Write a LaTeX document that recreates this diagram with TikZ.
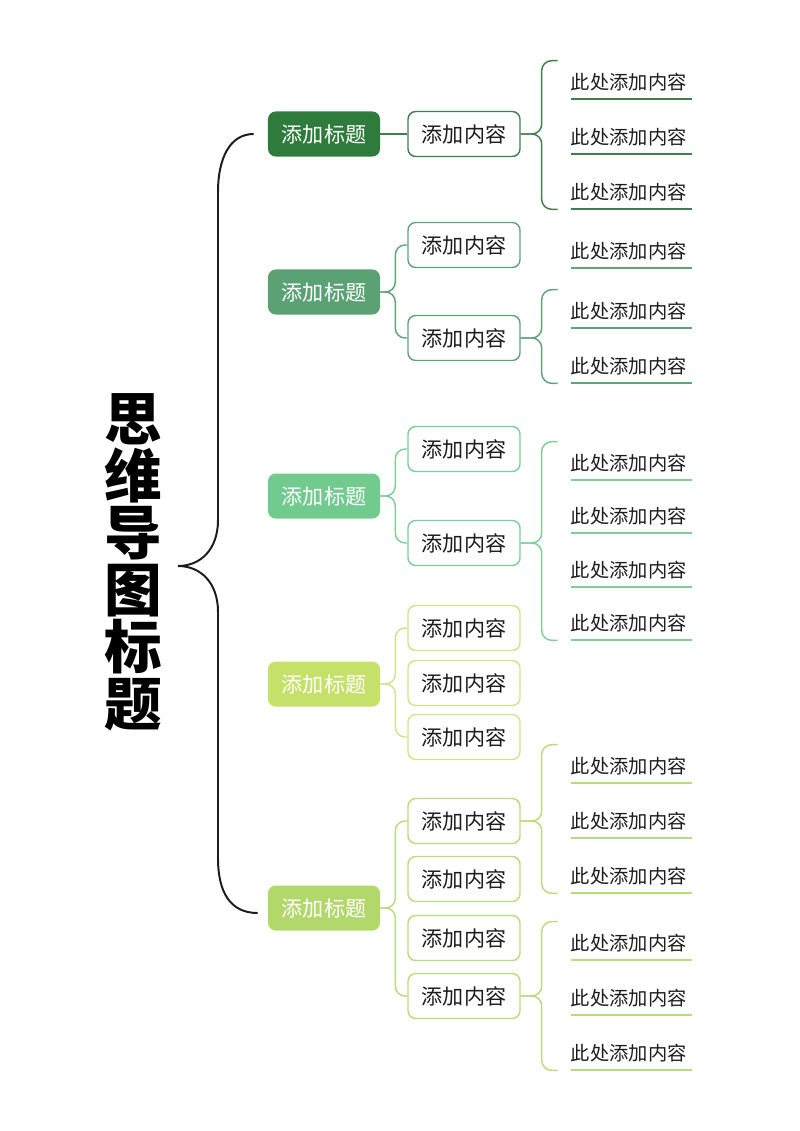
\documentclass[tikz,border=0pt]{standalone}
\usepackage{fontspec}
\setmainfont{Noto Sans CJK SC}
\definecolor{ink}{HTML}{1C1C1C}
\definecolor{toneA}{HTML}{2F7B3B}
\definecolor{toneAl}{HTML}{3E7F4C}
\definecolor{toneB}{HTML}{5AA274}
\definecolor{toneBl}{HTML}{5FA478}
\definecolor{toneC}{HTML}{72CB8E}
\definecolor{toneCl}{HTML}{7CCF97}
\definecolor{toneD}{HTML}{C6E16A}
\definecolor{toneDl}{HTML}{CFE58C}
\definecolor{toneE}{HTML}{B2D86B}
\definecolor{toneEl}{HTML}{B8DB7C}
\tikzset{
  headbox/.style={fill=#1, rounded corners=5.5pt, minimum width=2.8cm, minimum height=1.125cm,
    inner sep=0pt, text=white, font=\fontsize{15}{18}\selectfont},
  itembox/.style={draw=#1, fill=white, line width=1pt, rounded corners=5.5pt, minimum width=2.8cm,
    minimum height=1.125cm, inner sep=0pt, text=ink, font=\fontsize{15}{18}\selectfont},
  leaf/.style={text width=3.025cm, align=left, minimum height=0.85cm, inner sep=0pt, text=ink,
    font=\fontsize{13.7}{16}\selectfont},
  underline/.style={draw=#1, line width=1.3pt},
  link/.style={draw=#1, line width=1.05pt, rounded corners=7pt},
  mainline/.style={draw=ink, line width=1.4pt}
}
\begin{document}
\begin{tikzpicture}[x=0.025cm, y=-0.025cm]
      \useasboundingbox (0,0) rectangle (800,1131);
      \node[font=\fontsize{41}{40.5}\selectfont\bfseries, align=center, text=black] (title) at (133,562)
        {思\\维\\导\\图\\标\\题};
      \node[headbox=toneA] (t1) at (324,134) {添加标题};
      \node[headbox=toneB] (t2) at (324,292) {添加标题};
      \node[headbox=toneC] (t3) at (324,496) {添加标题};
      \node[headbox=toneD] (t4) at (324,684) {添加标题};
      \node[headbox=toneE] (t5) at (324,908) {添加标题};
      \node[itembox=toneAl] (c11) at (464,134) {添加内容};
      \node[itembox=toneBl] (c21) at (464,245) {添加内容};
      \node[itembox=toneBl] (c22) at (464,338) {添加内容};
      \node[itembox=toneCl] (c31) at (464,449) {添加内容};
      \node[itembox=toneCl] (c32) at (464,543) {添加内容};
      \node[itembox=toneDl] (c41) at (464,628) {添加内容};
      \node[itembox=toneDl] (c42) at (464,683) {添加内容};
      \node[itembox=toneDl] (c43) at (464,737) {添加内容};
      \node[itembox=toneEl] (c51) at (464,821) {添加内容};
      \node[itembox=toneEl] (c52) at (464,879) {添加内容};
      \node[itembox=toneEl] (c53) at (464,938) {添加内容};
      \node[itembox=toneEl] (c54) at (464,996) {添加内容};
      \node[leaf] (l111) at (631.5,82) {此处添加内容};
      \node[leaf] (l112) at (631.5,137) {此处添加内容};
      \node[leaf] (l113) at (631.5,192) {此处添加内容};
      \node[leaf] (l211) at (631.5,251) {此处添加内容};
      \node[leaf] (l221) at (631.5,311) {此处添加内容};
      \node[leaf] (l222) at (631.5,366) {此处添加内容};
      \node[leaf] (l321) at (631.5,463) {此处添加内容};
      \node[leaf] (l322) at (631.5,516) {此处添加内容};
      \node[leaf] (l323) at (631.5,570) {此处添加内容};
      \node[leaf] (l324) at (631.5,623) {此处添加内容};
      \node[leaf] (l511) at (631.5,766) {此处添加内容};
      \node[leaf] (l512) at (631.5,821) {此处添加内容};
      \node[leaf] (l513) at (631.5,876) {此处添加内容};
      \node[leaf] (l541) at (631.5,943) {此处添加内容};
      \node[leaf] (l542) at (631.5,998) {此处添加内容};
      \node[leaf] (l543) at (631.5,1053) {此处添加内容};
      \draw[underline=toneAl] (l111.south west) -- (l111.south east);
      \draw[underline=toneAl] (l112.south west) -- (l112.south east);
      \draw[underline=toneAl] (l113.south west) -- (l113.south east);
      \draw[underline=toneBl] (l211.south west) -- (l211.south east);
      \draw[underline=toneBl] (l221.south west) -- (l221.south east);
      \draw[underline=toneBl] (l222.south west) -- (l222.south east);
      \draw[underline=toneCl] (l321.south west) -- (l321.south east);
      \draw[underline=toneCl] (l322.south west) -- (l322.south east);
      \draw[underline=toneCl] (l323.south west) -- (l323.south east);
      \draw[underline=toneCl] (l324.south west) -- (l324.south east);
      \draw[underline=toneEl] (l511.south west) -- (l511.south east);
      \draw[underline=toneEl] (l512.south west) -- (l512.south east);
      \draw[underline=toneEl] (l513.south west) -- (l513.south east);
      \draw[underline=toneEl] (l541.south west) -- (l541.south east);
      \draw[underline=toneEl] (l542.south west) -- (l542.south east);
      \draw[underline=toneEl] (l543.south west) -- (l543.south east);
      \coordinate (tip) at (178,566);
      \begin{scope}[mainline]
        \draw (tip) .. controls (200,566) and (218,550) .. (218,520) -- (218,192)
          .. controls (218,158) and (230,134) .. ([xshift=-10]t1.west);
        \draw (tip) .. controls (200,566) and (218,582) .. (218,612) -- (218,858)
          .. controls (218,892) and (230,913) .. ([shift={(-10,5)}]t5.west);
      \end{scope}
      \draw[link=toneAl] (t1) to (c11);
      \draw[link=toneBl] (t2.east) -- ++(15,0) |- (c21.west);
      \draw[link=toneBl] (t2.east) -- ++(15,0) |- (c22.west);
      \draw[link=toneCl] (t3.east) -- ++(15,0) |- (c31.west);
      \draw[link=toneCl] (t3.east) -- ++(15,0) |- (c32.west);
      \draw[link=toneDl] (t4.east) -- ++(15,0) |- (c41.west);
      \draw[link=toneDl] (t4.east) -- ++(15,0) |- (c43.west);
      \draw[link=toneEl] (t5.east) -- ++(15,0) |- (c51.west);
      \draw[link=toneEl] (t5.east) -- ++(15,0) |- (c54.west);
      \draw[link=toneAl] (c11.east) -- ++(21,0) |- ([shift={(-13,-4)}]l111.north west);
      \draw[link=toneAl] (c11.east) -- ++(21,0) |- ([shift={(-13,0)}]l113.south west);
      \draw[link=toneBl] (c22.east) -- ++(21,0) |- ([shift={(-13,-4)}]l221.north west);
      \draw[link=toneBl] (c22.east) -- ++(21,0) |- ([shift={(-13,0)}]l222.south west);
      \draw[link=toneCl] (c32.east) -- ++(21,0) |- ([shift={(-13,-4)}]l321.north west);
      \draw[link=toneCl] (c32.east) -- ++(21,0) |- ([shift={(-13,0)}]l324.south west);
      \draw[link=toneEl] (c51.east) -- ++(21,0) |- ([shift={(-13,-4)}]l511.north west);
      \draw[link=toneEl] (c51.east) -- ++(21,0) |- ([shift={(-13,0)}]l513.south west);
      \draw[link=toneEl] (c54.east) -- ++(21,0) |- ([shift={(-13,-4)}]l541.north west);
      \draw[link=toneEl] (c54.east) -- ++(21,0) |- ([shift={(-13,0)}]l543.south west);
    \end{tikzpicture}
\end{document}
